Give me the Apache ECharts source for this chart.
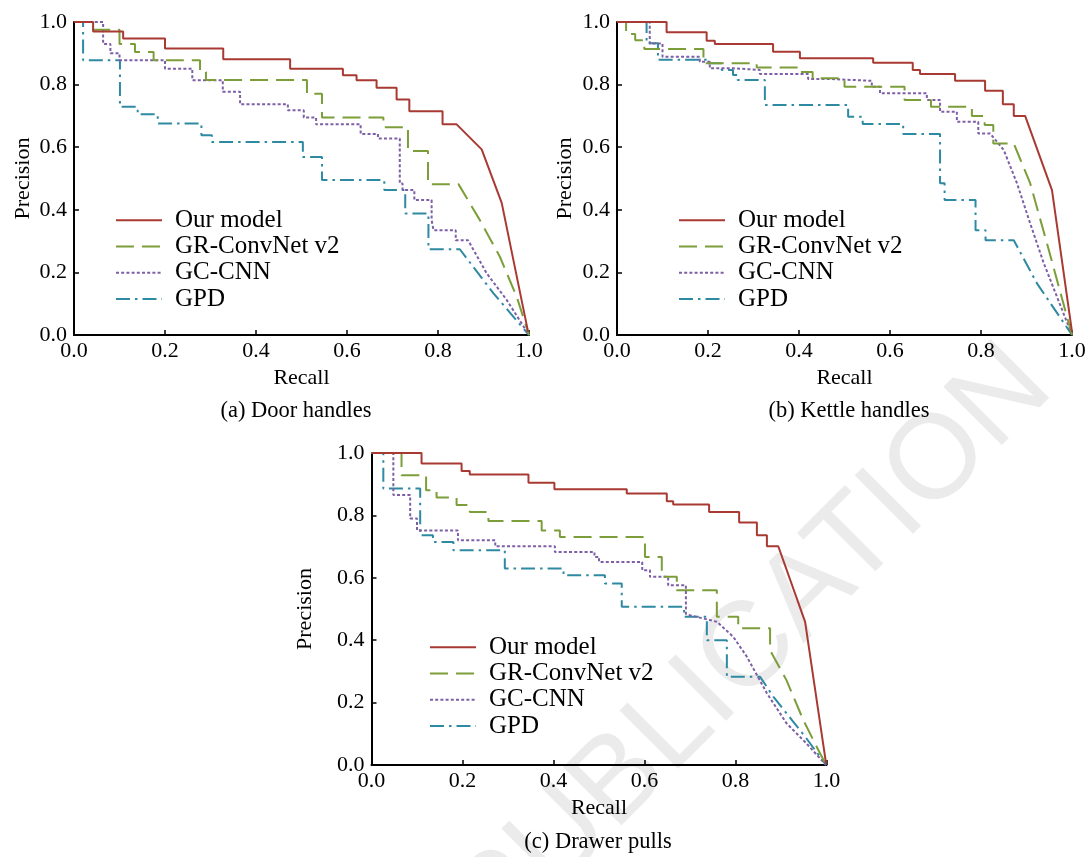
<!DOCTYPE html>
<html>
<head>
<meta charset="utf-8">
<script src="https://cdn.jsdelivr.net/npm/echarts@6/dist/echarts.min.js"></script>
<style>html,body{margin:0;padding:0;background:#fff}#chart{width:1091px;height:857px}</style>
</head>
<body>
<div id="chart"></div>
<script>
// ---------- data (recall, precision) ----------
const seriesNames = ['Our model', 'GR-ConvNet v2', 'GC-CNN', 'GPD'];
const panelCaptions = ['(a) Door handles', '(b) Kettle handles', '(c) Drawer pulls'];
const tickValues = [0, 0.2, 0.4, 0.6, 0.8, 1.0];

// step drops: [recall where precision drops, new precision]; tail: straight segments to the end
const aOursSteps = [[0.042,0.97],[0.108,0.947],[0.2,0.915],[0.328,0.881],[0.475,0.851],[0.591,0.83],[0.621,0.814],[0.665,0.79],[0.709,0.752],[0.737,0.715],[0.81,0.673]];
const aOursTail  = [[0.841,0.673],[0.896,0.593],[0.94,0.422],[0.998,0.01]];
const aGrSteps   = [[0.042,0.975],[0.1,0.93],[0.134,0.904],[0.175,0.878],[0.277,0.84],[0.29,0.815],[0.512,0.771],[0.545,0.695],[0.68,0.664],[0.734,0.588],[0.778,0.482]];
const aGrTail    = [[0.845,0.482],[0.892,0.367],[0.936,0.25],[0.973,0.122],[1.0,0.0]];
const aGcSteps   = [[0.064,0.93],[0.08,0.9],[0.1,0.878],[0.2,0.851],[0.26,0.814],[0.327,0.777],[0.365,0.737],[0.47,0.718],[0.505,0.695],[0.532,0.673],[0.63,0.642],[0.668,0.628],[0.716,0.484],[0.722,0.463],[0.748,0.431],[0.786,0.367],[0.79,0.335],[0.839,0.303]];
const aGcTail    = [[0.866,0.303],[0.907,0.197],[0.951,0.112],[1.0,0.0]];
const aGpdSteps  = [[0.02,0.878],[0.101,0.729],[0.14,0.705],[0.184,0.676],[0.28,0.638],[0.303,0.617],[0.503,0.569],[0.545,0.495],[0.682,0.463],[0.728,0.388],[0.779,0.274]];
const aGpdTail   = [[0.848,0.274],[0.922,0.133],[1.0,0.0]];

const bOursSteps = [[0.109,0.967],[0.197,0.94],[0.215,0.93],[0.343,0.905],[0.402,0.884],[0.563,0.87],[0.65,0.847],[0.666,0.834],[0.743,0.812],[0.809,0.78],[0.848,0.737],[0.872,0.7]];
const bOursTail  = [[0.897,0.7],[0.956,0.463],[1.0,0.01]];
const bGrSteps   = [[0.02,0.962],[0.04,0.942],[0.06,0.914],[0.19,0.868],[0.307,0.855],[0.4,0.84],[0.43,0.82],[0.5,0.793],[0.632,0.751],[0.69,0.729],[0.78,0.7],[0.808,0.671],[0.827,0.612]];
const bGrTail    = [[0.872,0.612],[0.908,0.485],[0.945,0.293],[0.981,0.101],[1.0,0.0]];
const bGcSteps   = [[0.072,0.931],[0.1,0.889],[0.182,0.873],[0.204,0.852],[0.255,0.847],[0.314,0.834],[0.42,0.818],[0.468,0.812],[0.56,0.793],[0.578,0.772],[0.681,0.751],[0.71,0.713],[0.747,0.681],[0.794,0.644]];
const bGcTail    = [[0.82,0.644],[0.85,0.591],[0.879,0.485],[0.908,0.357],[0.938,0.229],[0.967,0.122],[1.0,0.0]];
const bGpdSteps  = [[0.065,0.932],[0.09,0.879],[0.2,0.868],[0.23,0.847],[0.255,0.831],[0.265,0.815],[0.325,0.735],[0.508,0.697],[0.54,0.674],[0.629,0.642],[0.71,0.485],[0.72,0.431],[0.788,0.335],[0.81,0.303]];
const bGpdTail   = [[0.872,0.303],[0.923,0.165],[1.0,0.0]];

const cOursSteps = [[0.11,0.966],[0.198,0.942],[0.216,0.931],[0.345,0.905],[0.402,0.884],[0.561,0.87],[0.649,0.845],[0.663,0.835],[0.742,0.811],[0.808,0.777],[0.847,0.736],[0.869,0.701]];
const cOursTail  = [[0.894,0.701],[0.953,0.459],[0.999,0.005]];
const cGrSteps   = [[0.066,0.929],[0.12,0.881],[0.143,0.857],[0.187,0.833],[0.216,0.811],[0.257,0.782],[0.374,0.752],[0.414,0.731],[0.601,0.667],[0.638,0.603],[0.671,0.56],[0.759,0.475],[0.806,0.438],[0.876,0.368]];
const cGrTail    = [[0.876,0.368],[0.912,0.272],[0.949,0.144],[0.982,0.048],[0.999,0.0]];
const cGcSteps   = [[0.048,0.865],[0.085,0.79],[0.1,0.752],[0.19,0.72],[0.272,0.701],[0.403,0.683],[0.49,0.667],[0.5,0.651],[0.595,0.624],[0.612,0.603],[0.652,0.576],[0.691,0.484]];
const cGcTail    = [[0.7,0.48],[0.759,0.459],[0.795,0.411],[0.825,0.347],[0.869,0.23],[0.912,0.134],[0.956,0.069],[0.999,0.0]];
const cGpdSteps  = [[0.026,0.886],[0.107,0.736],[0.135,0.715],[0.18,0.688],[0.293,0.63],[0.422,0.608],[0.513,0.582],[0.55,0.507],[0.687,0.475],[0.737,0.4],[0.781,0.283]];
const cGpdTail   = [[0.854,0.283],[0.883,0.219],[0.924,0.144],[0.953,0.091],[0.999,0.0]];

// ---------- build ----------
function stair(steps, tail) {
  const pts = [[0, 1]];
  let y = 1;
  for (const [x, ny] of steps) { pts.push([x, y]); pts.push([x, ny]); y = ny; }
  for (const p of tail) pts.push(p);
  return pts;
}
const panelData = [
  [stair(aOursSteps, aOursTail), stair(aGrSteps, aGrTail), stair(aGcSteps, aGcTail), stair(aGpdSteps, aGpdTail)],
  [stair(bOursSteps, bOursTail), stair(bGrSteps, bGrTail), stair(bGcSteps, bGcTail), stair(bGpdSteps, bGpdTail)],
  [stair(cOursSteps, cOursTail), stair(cGrSteps, cGrTail), stair(cGcSteps, cGcTail), stair(cGpdSteps, cGpdTail)]
];

const FONT = '"Liberation Serif", "Times New Roman", serif';
const colors = ['#a83a33', '#7c9e3a', '#7d5fa6', '#2e89a2'];
const dashes = ['solid', [18, 8], [3, 2.2], [14, 5, 2.5, 5]];

const grids = [
  { left: 74, top: 22, width: 455, height: 313 },
  { left: 617, top: 22, width: 455, height: 313 },
  { left: 371.5, top: 453, width: 455, height: 312 }
];
const yNameGaps = [40, 41, 55];
const legendPos = [
  { left: 110, top: 202 },
  { left: 673, top: 202 },
  { left: 424, top: 629 }
];

const chart = echarts.init(document.getElementById('chart'), null, { renderer: 'canvas' });
const axisCommon = {
  type: 'value', min: 0, max: 1, interval: 0.2,
  axisLine: { show: true, lineStyle: { color: '#000', width: 2 } },
  axisTick: { show: true, inside: true, length: 5, lineStyle: { color: '#000', width: 1.5 } },
  splitLine: { show: false },
  axisLabel: { color: '#000', fontFamily: FONT, fontSize: 22, formatter: v => v.toFixed(1) },
  nameLocation: 'middle',
  nameTextStyle: { color: '#000', fontFamily: FONT, fontSize: 22 }
};

const option = {
  backgroundColor: '#fff',
  animation: false,
  grid: grids,
  xAxis: grids.map((g, i) => Object.assign({}, axisCommon, {
    gridIndex: i, name: 'Recall', nameGap: 32,
    axisLabel: Object.assign({}, axisCommon.axisLabel, { margin: 5 })
  })),
  yAxis: grids.map((g, i) => Object.assign({}, axisCommon, {
    gridIndex: i, name: 'Precision', nameGap: yNameGaps[i],
    axisLabel: Object.assign({}, axisCommon.axisLabel, { margin: 7 })
  })),
  legend: legendPos.map((p, i) => ({
    orient: 'vertical', left: p.left, top: p.top,
    itemWidth: 46, itemHeight: 14, itemGap: 0,
    itemStyle: { color: 'rgba(0,0,0,0)', borderColor: 'rgba(0,0,0,0)', borderWidth: 0, opacity: 0 },
    textStyle: { color: '#000', fontFamily: FONT, fontSize: 25, lineHeight: 26.3, padding: [0, 0, 0, 8] },
    data: seriesNames.map(n => ({ name: n + '\u200b'.repeat(i) }))
  })),
  graphic: [
    { type: 'text', x: 753, y: 647, rotation: Math.PI / 4, z: -10, silent: true,
      style: { text: 'PUBLICATION', fill: '#ebebeb', font: '120px "Liberation Sans", Arial, sans-serif', textAlign: 'center', textVerticalAlign: 'middle' } }
  ].concat(panelCaptions.map((t, i) => ({
    type: 'text', silent: true,
    x: [296, 849, 598][i], y: [411, 411, 842][i],
    style: { text: t, fill: '#000', font: '22.5px ' + FONT, textAlign: 'center', textVerticalAlign: 'middle' }
  }))),
  series: []
};
panelData.forEach((set, pi) => {
  set.forEach((pts, si) => {
    option.series.push({
      type: 'line', name: seriesNames[si] + '\u200b'.repeat(pi),
      xAxisIndex: pi, yAxisIndex: pi,
      data: pts, symbol: 'none', showSymbol: false, clip: false,
      lineStyle: { color: colors[si], width: 2, type: dashes[si] },
      itemStyle: { color: colors[si] },
      z: 10 - si
    });
  });
});
chart.setOption(option);
</script>
</body>
</html>
